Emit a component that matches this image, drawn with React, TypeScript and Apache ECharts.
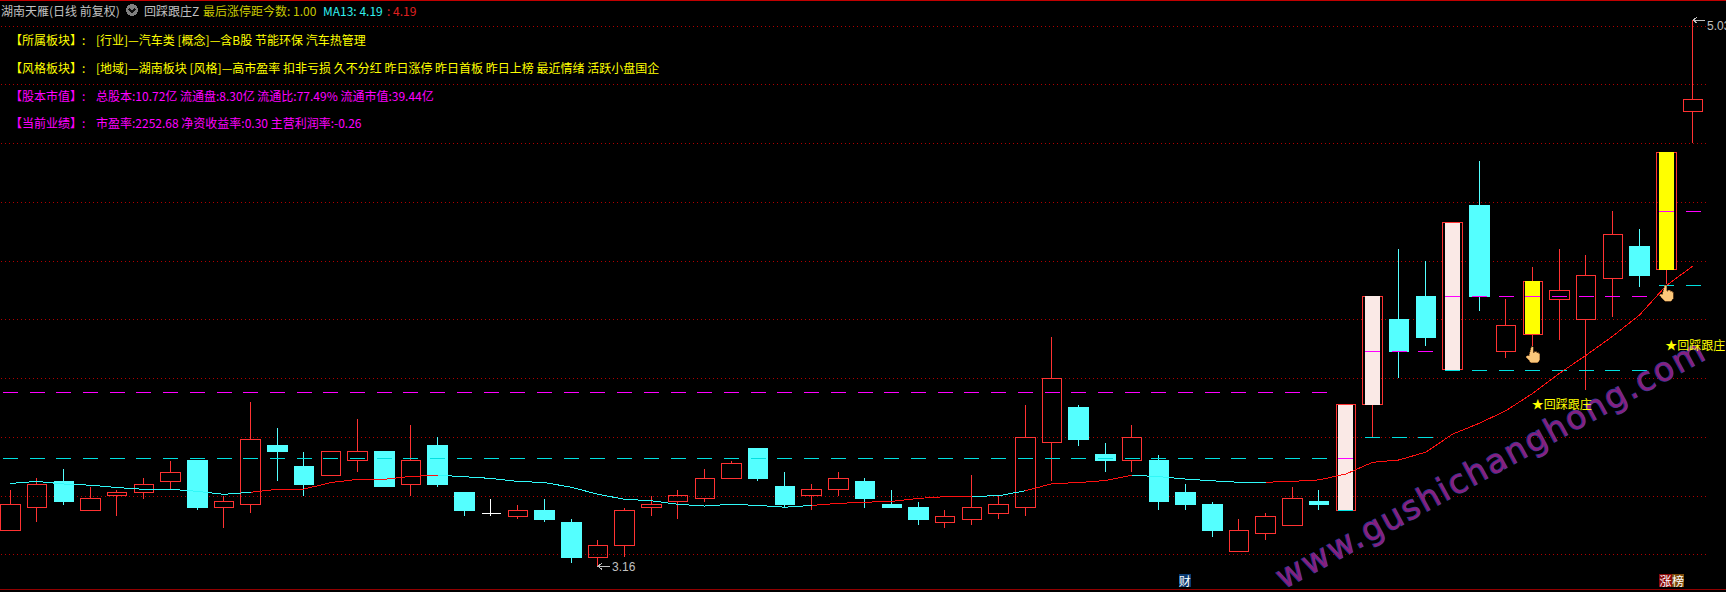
import React, { useEffect, useRef } from "react";
import * as echarts from "echarts";

const categories = Array.from({ length: 64 }, (_, i) => "D" + (i + 1));
const opens = [3.28,3.36,3.45,3.35,3.40,3.41,3.45,3.52,3.36,3.37,3.57,3.50,3.47,3.52,3.55,3.44,3.57,3.41,3.34,3.33,3.35,3.31,3.19,3.23,3.36,3.38,3.39,3.46,3.56,3.43,3.40,3.42,3.45,3.37,3.36,3.31,3.32,3.34,3.36,3.58,3.70,3.54,3.52,3.52,3.41,3.37,3.21,3.27,3.30,3.38,3.35,3.71,4.00,4.08,3.83,4.39,3.89,3.95,4.07,4.00,4.14,4.25,4.17,4.71];
const closes = [3.37,3.44,3.38,3.39,3.41,3.44,3.48,3.36,3.38,3.59,3.55,3.44,3.55,3.55,3.43,3.52,3.44,3.35,3.34,3.35,3.32,3.19,3.23,3.35,3.37,3.40,3.46,3.51,3.46,3.37,3.42,3.46,3.39,3.36,3.32,3.33,3.36,3.37,3.60,3.80,3.59,3.52,3.60,3.38,3.37,3.28,3.28,3.33,3.39,3.37,3.71,4.08,3.89,3.94,4.33,4.08,3.98,4.13,4.10,4.15,4.29,4.15,4.57,4.75];
const lows = [3.28,3.31,3.37,3.35,3.33,3.39,3.42,3.35,3.29,3.34,3.45,3.40,3.47,3.48,3.43,3.40,3.43,3.33,3.33,3.32,3.31,3.17,3.16,3.19,3.33,3.32,3.38,3.46,3.45,3.36,3.35,3.40,3.36,3.36,3.30,3.29,3.30,3.32,3.33,3.45,3.57,3.48,3.48,3.35,3.35,3.26,3.21,3.25,3.30,3.35,3.35,3.60,3.80,3.91,3.83,4.03,3.87,3.91,3.93,3.76,4.01,4.11,4.12,4.60];
const highs = [3.42,3.46,3.49,3.43,3.42,3.46,3.52,3.52,3.40,3.72,3.63,3.55,3.55,3.66,3.55,3.64,3.60,3.41,3.39,3.37,3.39,3.32,3.25,3.36,3.40,3.42,3.49,3.52,3.56,3.48,3.44,3.48,3.46,3.42,3.38,3.35,3.47,3.40,3.71,3.94,3.71,3.58,3.64,3.54,3.44,3.38,3.32,3.34,3.43,3.42,3.71,4.08,4.24,4.20,4.33,4.54,4.07,4.18,4.24,4.22,4.37,4.31,4.57,5.02];
const ma13 = [3.442,3.449,3.440,3.436,3.428,3.422,3.422,3.415,3.405,3.412,3.422,3.423,3.445,3.456,3.456,3.466,3.470,3.465,3.459,3.449,3.445,3.429,3.405,3.388,3.383,3.371,3.365,3.371,3.367,3.361,3.367,3.374,3.378,3.381,3.391,3.397,3.398,3.400,3.417,3.441,3.445,3.452,3.470,3.465,3.457,3.451,3.446,3.446,3.449,3.454,3.474,3.514,3.522,3.549,3.610,3.647,3.690,3.749,3.817,3.879,3.944,4.016,4.116,4.183];
const maRedRuns = [[9, 16], [30, 36], [38, 42], [47, 63]];
const magentaLevels = [3.752,3.752,3.752,3.752,3.752,3.752,3.752,3.752,3.752,3.752,3.752,3.752,3.752,3.752,3.752,3.752,3.752,3.752,3.752,3.752,3.752,3.752,3.752,3.752,3.752,3.752,3.752,3.752,3.752,3.752,3.752,3.752,3.752,3.752,3.752,3.752,3.752,3.752,3.752,3.752,3.752,3.752,3.752,3.752,3.752,3.752,3.752,3.752,3.752,3.752,3.528,3.892,3.892,3.892,4.079,4.079,4.079,4.079,4.079,4.079,4.079,4.079,4.369,4.369];
const cyanLevels = [3.528,3.528,3.528,3.528,3.528,3.528,3.528,3.528,3.528,3.528,3.528,3.528,3.528,3.528,3.528,3.528,3.528,3.528,3.528,3.528,3.528,3.528,3.528,3.528,3.528,3.528,3.528,3.528,3.528,3.528,3.528,3.528,3.528,3.528,3.528,3.528,3.528,3.528,3.528,3.528,3.528,3.528,3.528,3.528,3.528,3.528,3.528,3.528,3.528,3.528,3.35,3.6,3.6,3.6,3.827,3.827,3.827,3.827,3.827,3.827,3.827,3.827,4.117,4.117];
const pinkSticks = [50, 51, 54];
const yellowSticks = [57, 62];
const dojiWhite = [18];
const extremes: [number, number, string, number][] = [[22, 3.16, "3.16", 1], [63, 5.02, "5.03", 6]];
const starLabels: [number, number, string][] = [[57, 3.713, "回踩跟庄"], [62, 3.914, "回踩跟庄"]];
const hands: [number, number][] = [[57, 3.88], [62, 4.09]];
const flags: [number, number, string, string][] = [[44, 3.11, "财", "#0A3A70"], [62, 3.11, "涨榜", "#8A0A0A,#7A4A0A"]];

const titleLine = [
  { t: "湖南天雁(日线 前复权)", x: 1, c: "#C0C0C0" },
  { t: "回踩跟庄Z", x: 144, c: "#C0C0C0" },
  { t: "最后涨停距今数: 1.00", x: 203, c: "#C8C800" },
  { t: "MA13: 4.19", x: 323, c: "#30F0F0" },
  { t: ": 4.19", x: 387, c: "#E02020" },
];
const infoLines = [
  { y: 39, c: "#FFFF00", h: "【所属板块】:", b: "[行业]—汽车类 [概念]—含B股 节能环保 汽车热管理" },
  { y: 67, c: "#FFFF00", h: "【风格板块】:", b: "[地域]—湖南板块 [风格]—高市盈率 扣非亏损 久不分红 昨日涨停 昨日首板 昨日上榜 最近情绪 活跃小盘国企" },
  { y: 95, c: "#FF00FF", h: "【股本市值】:", b: "总股本:10.72亿 流通盘:8.30亿 流通比:77.49% 流通市值:39.44亿" },
  { y: 122, c: "#FF00FF", h: "【当前业绩】:", b: "市盈率:2252.68 净资收益率:0.30 主营利润率:-0.26" },
];
const watermark = "www.gushichanghong.com";

const UP = "#FF3232";
const DOWN = "#54FFFF";
const FONT = '"Noto Sans CJK SC"';
const HAND = "M5 0h2v6h1v-1h2v1h2v1h1v6l-2 3h-6l-5-6 1-1h2z";

function maRun(red: boolean) {
  return ma13.map((v, i) => {
    const inRed = maRedRuns.some(([a, b]) => i >= a && i <= b);
    const edge = maRedRuns.some(([a, b]) => i === a || i === b);
    return inRed === red || edge ? v : null;
  });
}

function stickRender(width: number, color: string) {
  return (_: any, api: any) => {
    const i = api.value(0);
    const a = api.coord([i, api.value(1)]);
    const b = api.coord([i, api.value(2)]);
    return {
      type: "rect",
      shape: { x: a[0] - width / 2, y: b[1], width, height: a[1] - b[1] },
      style: { fill: color },
    };
  };
}

function dashRender(color: string) {
  return (_: any, api: any) => {
    const p = api.coord([api.value(0), api.value(1)]);
    const y = Math.round(p[1]) + 0.5;
    return {
      type: "line",
      shape: { x1: p[0] - 7.5, y1: y, x2: p[0] + 7.5, y2: y },
      style: { stroke: color, lineWidth: 1 },
    };
  };
}

export default function App() {
  const ref = useRef<HTMLDivElement>(null);
  useEffect(() => {
    document.body.style.margin = "0";
    document.body.style.background = "#000";
    const style = document.createElement("style");
    style.textContent = 'svg path{shape-rendering:crispEdges} svg text[style*="33px"]{letter-spacing:1.9px}';
    document.head.appendChild(style);
    const chart = echarts.init(ref.current!, undefined, { renderer: "svg" });
    const candles = categories.map((_, i) => {
      const value = [opens[i], closes[i], lows[i], highs[i]];
      if (dojiWhite.includes(i)) {
        return { value, itemStyle: { color: "#FFF", color0: "#FFF", borderColor: "#FFF", borderColor0: "#FFF", borderColorDoji: "#FFF" } };
      }
      return { value };
    });
    const titleEls: any[] = titleLine.map((s) => ({
      type: "text", x: s.x, y: 10, z: 50,
      style: { text: s.t, fill: s.c, font: "12px " + FONT, verticalAlign: "middle", textVerticalAlign: "middle" },
    }));
    const infoEls: any[] = [];
    infoLines.forEach((l) => {
      infoEls.push({ type: "text", x: 10, y: l.y, z: 50, style: { text: l.h, fill: l.c, font: "12px " + FONT, verticalAlign: "middle", textVerticalAlign: "middle" } });
      infoEls.push({ type: "text", x: 96, y: l.y, z: 50, style: { text: l.b, fill: l.c, font: "12px " + FONT, verticalAlign: "middle", textVerticalAlign: "middle" } });
    });
    chart.setOption({
      animation: false,
      backgroundColor: "#000",
      grid: { left: -3, width: 1709.4, top: -32.7, height: 645.9, outerBoundsMode: "none" },
      xAxis: { type: "category", data: categories, show: false, boundaryGap: true },
      yAxis: {
        type: "value", min: 3.0, max: 5.2, interval: 0.2, scale: true,
        axisLine: { show: false }, axisTick: { show: false }, axisLabel: { show: false },
        splitLine: { show: true, lineStyle: { color: "#B00000", type: [1, 3], width: 1 } },
      },
      series: [
        {
          type: "candlestick", data: candles, barWidth: 20, z: 2, silent: true,
          itemStyle: { color: "transparent", color0: DOWN, borderColor: UP, borderColor0: DOWN, borderColorDoji: UP, borderWidth: 1 },
        },
        {
          type: "custom", z: 3, silent: true, renderItem: stickRender(15, "#FAE9E6"),
          data: pinkSticks.map((i) => [i, opens[i], closes[i]]), encode: { x: 0, y: [1, 2] },
        },
        {
          type: "custom", z: 3, silent: true, renderItem: stickRender(15, "#FFFF00"),
          data: yellowSticks.map((i) => [i, opens[i], closes[i]]), encode: { x: 0, y: [1, 2] },
        },
        {
          type: "custom", z: 4, silent: true, renderItem: dashRender("#FF00FF"),
          data: magentaLevels.map((v, i) => [i, v]), encode: { x: 0, y: 1 },
        },
        {
          type: "custom", z: 4, silent: true, renderItem: dashRender("#00E0E0"),
          data: cyanLevels.map((v, i) => [i, v]), encode: { x: 0, y: 1 },
        },
        { type: "line", data: maRun(false), symbol: "none", z: 5, silent: true, lineStyle: { color: "#30F8F8", width: 1 } },
        { type: "line", data: maRun(true), symbol: "none", z: 5, silent: true, lineStyle: { color: "#FF1010", width: 1 } },
        {
          type: "custom", z: 6, silent: true, encode: { x: 0, y: 1 }, data: extremes,
          renderItem: (_: any, api: any) => {
            const p = api.coord([api.value(0), api.value(1)]);
            const dy = api.value(3);
            return {
              type: "group",
              children: [
                { type: "polyline", shape: { points: [[p[0] + 4, p[1] - 3], [p[0], p[1]], [p[0] + 4, p[1] + 3]] }, style: { stroke: "#C0C0C0", fill: "none", lineWidth: 1 } },
                { type: "line", shape: { x1: p[0], y1: p[1], x2: p[0] + 12, y2: p[1] }, style: { stroke: "#C0C0C0", lineWidth: 1 } },
                { type: "text", x: p[0] + 14, y: p[1] + dy, style: { text: api.value(2), fill: "#C0C0C0", font: '12px "Liberation Sans"', verticalAlign: "middle", textVerticalAlign: "middle" } },
              ],
            };
          },
        },
        {
          type: "custom", z: 6, silent: true, encode: { x: 0, y: 1 }, data: starLabels,
          renderItem: (_: any, api: any) => {
            const p = api.coord([api.value(0), api.value(1)]);
            return {
              type: "text", x: p[0] - 1, y: p[1],
              style: { text: "★" + api.value(2), fill: "#FFFF00", font: "12px " + FONT, verticalAlign: "middle", textVerticalAlign: "middle" },
            };
          },
        },
        {
          type: "custom", z: 6, silent: true, encode: { x: 0, y: 1 }, data: hands,
          renderItem: (_: any, api: any) => {
            const p = api.coord([api.value(0), api.value(1)]);
            return {
              type: "path",
              shape: { pathData: HAND, x: p[0] - 7, y: p[1] - 8, width: 14, height: 16, layout: "cover" },
              style: { fill: "#FBC77A", stroke: "#8A5A2A", lineWidth: 0.6 },
            };
          },
        },
        {
          type: "custom", z: 6, silent: true, encode: { x: 0, y: 1 }, data: flags,
          renderItem: (_: any, api: any) => {
            const p = api.coord([api.value(0), api.value(1)]);
            const text = String(api.value(2));
            const fills = String(api.value(3)).split(",");
            const x0 = p[0] - 7;
            return {
              type: "group",
              children: text.split("").flatMap((ch, k) => [
                { type: "rect", shape: { x: x0 + k * 12.5, y: p[1] - 6.5, width: 12.5, height: 13 }, style: { fill: fills[k] } },
                { type: "text", x: x0 + k * 12.5 + 6.25, y: p[1], style: { text: ch, fill: "#FFF", font: "12px " + FONT, align: "center", textAlign: "center", verticalAlign: "middle", textVerticalAlign: "middle" } },
              ]),
            };
          },
        },
      ],
      graphic: [
        { type: "rect", z: 50, shape: { x: 0, y: 0, width: 1726, height: 1 }, style: { fill: "#C00000" } },
        { type: "rect", z: 50, shape: { x: 0, y: 589, width: 1726, height: 1 }, style: { fill: "#900000" } },
        { type: "circle", z: 50, shape: { cx: 132, cy: 10, r: 6 }, style: { fill: "#808080" } },
        { type: "polyline", z: 51, shape: { points: [[129, 9], [132, 12], [135, 9]] }, style: { stroke: "#101010", fill: "none", lineWidth: 1.5 } },
        ...titleEls,
        ...infoEls,
        {
          type: "text", z: 5.5, x: 1286, y: 594, rotation: (28.6 * Math.PI) / 180, originX: 0, originY: 0,
          style: { text: watermark, fill: "#86207F", stroke: "#2C3A96", lineWidth: 1.2, font: '33px "DejaVu Sans"', verticalAlign: "bottom", textVerticalAlign: "bottom" },
        },
      ],
    });
    return () => {
      chart.dispose();
      style.remove();
    };
  }, []);
  return <div ref={ref} style={{ position: "fixed", left: 0, top: 0, width: 1726, height: 592 }} />;
}
